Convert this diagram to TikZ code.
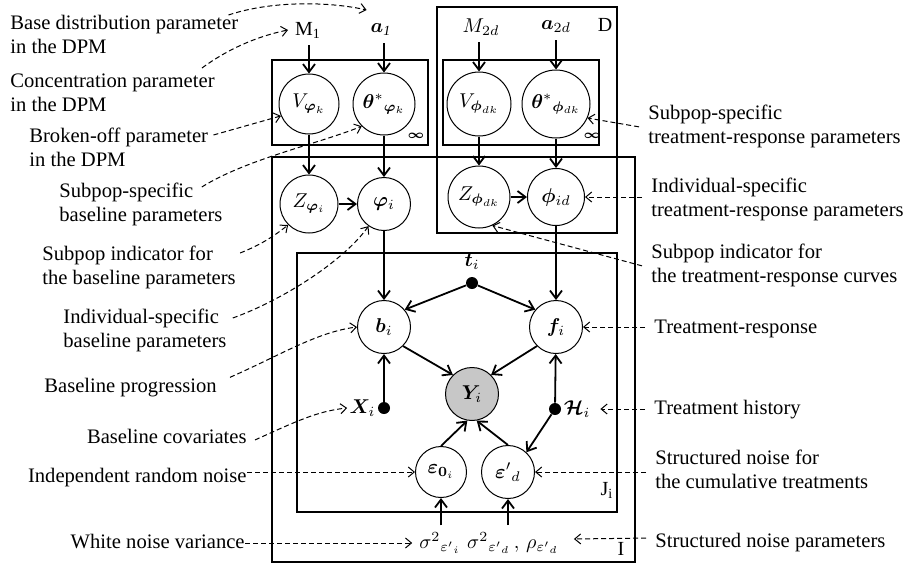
\documentclass[tikz,border=0pt]{standalone}
\usepackage{fontspec}
\setmainfont{Liberation Serif}
\usepackage{amsmath}
\usepackage{bm}
\usetikzlibrary{arrows.meta}
\usetikzlibrary{positioning}
\usetikzlibrary{calc}
\tikzset{
  var/.style={circle, draw, line width=0.5pt, minimum size=26.5pt, inner sep=0pt},
  bigvar/.style={var, minimum size=30pt},
  obsvar/.style={var, fill=black!22},
  dot/.style={circle, fill=black, inner sep=0pt, minimum size=6pt},
  plate/.style={draw, line width=0.65pt},
  arr/.style={line width=0.9pt, -{Straight Barb[length=4pt,width=6pt]}},
  note/.style={line width=0.5pt, dash pattern=on 2.5pt off 1.5pt, -{Straight Barb[length=3pt,width=5pt]}},
  lab/.style={font=\fontsize{10.3}{12}\selectfont, align=left, inner sep=0pt},
  rlab/.style={lab, inner xsep=4.5pt},
  inf/.style={font=\fontsize{6}{7}\selectfont, inner sep=0pt},
}
\begin{document}
\begin{tikzpicture}[x=0.5pt, y=-0.5pt]
\useasboundingbox (0,0) rectangle (905,569);
% plates
\draw[plate] (272,60) rectangle (428,145);
\draw[plate] (443,60) rectangle (599,145);
\draw[plate] (437,7) rectangle (617,233);
\draw[plate] (272,157) rectangle (635,562);
\draw[plate] (297,253) rectangle (617,512);
\node[inf] (infk) at (416,136) {$\bm{\infty}$};
\node[inf] (infd) at (592,136) {$\bm{\infty}$};
\node (plD) at (605,25) {D};
\node (plJ) at (607,490) {J\textsubscript{i}};
\node (plI) at (621,549) {I};

% hyperparameters
\node (M1) at (308,30) {M\textsubscript{1}};
\node (a1) at (381,30) {$\bm{a}_{\mathit{1}}$};
\node (M2d) at (481,27) {$M_{2d}$};
\node (a2d) at (556,27) {$\bm{a}_{2d}$};

% DPM part
\node[bigvar] (Vk) at (309,104) {$V_{\bm{\varphi}_k}$};
\node[bigvar, minimum size=31pt] (thk) at (384,104) {$\bm{\theta}^{*}{}_{\bm{\varphi}_k}$};
\node[bigvar, minimum size=32pt] (Vd) at (479,104) {$V_{\bm{\phi}_{dk}}$};
\node[bigvar, minimum size=34pt] (thd) at (556,104) {$\bm{\theta}^{*}{}_{\bm{\phi}_{dk}}$};
\node[bigvar, minimum size=29pt] (Zi) at (309,204) {$Z_{\bm{\varphi}_i}$};
\node[var] (phii) at (384,204) {$\bm{\varphi}_i$};
\node[bigvar, minimum size=31pt] (Zd) at (479,197) {$Z_{\bm{\phi}_{dk}}$};
\node[var, minimum size=28.5pt] (phid) at (556,197) {$\bm{\phi}_{id}$};

% observation model
\node[dot] (ti) at (472,283) {};
\node[above=0pt of ti] (tlab) {$\bm{t}_i$};
\node[var] (bi) at (384,327) {$\bm{b}_i$};
\node[var] (fi) at (556,327) {$\bm{f}_i$};
\node[obsvar] (Yi) at (472,394) {$\bm{Y}_i$};
\node[dot] (Xi) at (384,408) {};
\node[left=0pt of Xi, inner sep=1pt] (Xlab) {$\bm{X}_i$};
\node[dot] (Hi) at (555,409) {};
\node[right=0pt of Hi, inner sep=1pt] (Hlab) {$\bm{\mathcal{H}}_i$};
\node[var, minimum size=25.5pt] (e0) at (441,472) {$\bm{\varepsilon}_{\bm{0}_i}$};
\node[var] (ed) at (508,472) {$\bm{\varepsilon}'{}_{d}$};
\node (s0) at (440,543) {$\sigma^{2}{}_{\varepsilon'{}_i}$};
\node (sd) at (513,543) {$\sigma^{2}{}_{\varepsilon'{}_d}\,,\,\rho_{\varepsilon'{}_d}$};

\draw[arr] (M1.south -| Vk.north) -- (Vk.north);
\draw[arr] (a1.south -| thk.north) -- (thk.north);
\draw[arr] (M2d.south -| Vd.north) -- (Vd.north);
\draw[arr] (a2d.south -| thd.north) -- (thd.north);
\draw[arr] (Vk) -- (Zi);
\draw[arr] (thk) -- (phii);
\draw[arr] (Zi) -- (phii);
\draw[arr] (Vd) -- (Zd);
\draw[arr] (thd) -- (phid);
\draw[arr] (Zd) -- (phid);
\draw[arr] (phii) -- (bi);
\draw[arr] (phid) -- (fi);
\draw[arr] (ti) -- (bi.40);
\draw[arr] (ti) -- (fi.140);
\draw[arr] (bi.-45) -- (Yi.135);
\draw[arr] (fi.-135) -- (Yi.45);
\draw[arr] (Xi) -- (bi);
\draw[arr] (Hi) -- (fi);
\draw[arr] (Hi) -- (ed.47);
\draw[arr] (e0.north) -- (Yi.-100);
\draw[arr] (ed.north) -- (Yi.-80);
\draw[arr] (s0.north -| e0.south) -- (e0.south);
\draw[arr] (sd.north -| ed.south) -- (ed.south);

% annotations
\node[lab, anchor=north west] (lbase) at (10,15) {Base distribution parameter\\in the DPM};
\node[lab, anchor=north west] (lconc) at (10,73) {Concentration parameter\\in the DPM};
\node[lab, anchor=north west] (lbrk) at (29,128) {Broken-off parameter\\in the DPM};
\node[lab, anchor=north west] (lsubb) at (59,183) {Subpop-specific\\baseline parameters};
\node[lab, anchor=north west] (lindz) at (42,246) {Subpop indicator for\\the baseline parameters};
\node[lab, anchor=north west] (lindb) at (63,309) {Individual-specific\\baseline parameters};
\node[lab, anchor=base east] (lprog) at (217,392) {Baseline progression};
\node[lab, anchor=base east] (lcov) at (247,443) {Baseline covariates};
\node[lab, anchor=base east] (lnoise) at (247,482) {Independent random noise};
\node[lab, anchor=base east] (lwhite) at (245,548) {White noise variance};
\node[rlab, anchor=north west] (rsubt) at (639,105) {Subpop-specific\\treatment-response parameters};
\node[rlab, anchor=north west] (rindt) at (642,178) {Individual-specific\\treatment-response parameters};
\node[rlab, anchor=north west] (rindz) at (642,244) {Subpop indicator for\\the treatment-response curves};
\node[rlab, anchor=base west] (rresp) at (645,333) {Treatment-response};
\node[rlab, anchor=base west] (rhist) at (645,414) {Treatment history};
\node[rlab, anchor=north west] (rsn) at (646,450) {Structured noise for\\the cumulative treatments};
\node[rlab, anchor=base west] (rsnp) at (646,547) {Structured noise parameters};

\draw[note] ([shift={(-10,0)}]lbase.north east) .. controls +(45,-15) and +(-35,-8) .. ([shift={(3,-7)}]a1.north west);
\draw[note] ([shift={(-13,-5)}]lconc.north east) .. controls +(30,-22) and +(-25,5) .. (M1.west);
\draw[note] ([shift={(5,7)}]lbrk.north east) -- (Vk.203);
\draw[note] ([shift={(-21,4)}]lsubb.north east) .. controls +(45,-28) and +(-45,18) .. (thk.225);
\draw[note] ([shift={(4,7)}]lindz.north east) .. controls +(20,-8) and +(-15,12) .. (Zi.225);
\draw[note] ([shift={(6,9)}]lindb.north east) .. controls +(50,-18) and +(-25,35) .. (phii.235);
\draw[note] ([shift={(13,0)}]lprog.north east) .. controls +(50,-22) and +(-40,5) .. (bi.west);
\draw[note] ([shift={(8,4)}]lcov.east) .. controls +(40,-18) and +(-30,3) .. (Xlab.west);
\draw[note] (e0.west -| lnoise.east) -- (e0.west);
\draw[note] (s0.west -| lwhite.east) -- (s0.west);
\draw[note] (rsubt.west) -- (thd.-24);
\draw[note] (phid.east -| rindt.west) -- (phid.east);
\draw[note] (rindz.west) -- (Zd.-65);
\draw[note] (fi.east -| rresp.west) -- (fi.east);
\draw[note] (Hi.east -| rhist.west) -- ($(Hi.east)+(39,0)$);
\draw[note] (ed.east -| rsn.west) -- (ed.east);
\draw[note] ($(rsnp.west)+(0,-4)$) -- ($(sd.east)+(8,-4)$);
\end{tikzpicture}
\end{document}
